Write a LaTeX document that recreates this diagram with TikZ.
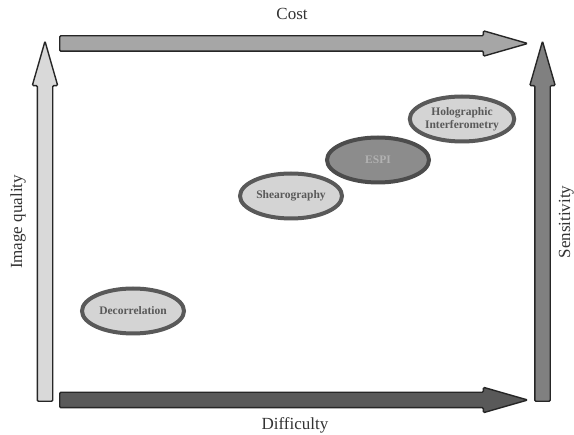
\documentclass[tikz,border=0pt]{standalone}
\usepackage{fontspec}
\setmainfont{Liberation Serif}
\usepackage{tikz}
\usetikzlibrary{shapes.arrows,shapes.geometric}

\begin{document}
\begin{tikzpicture}[x=1pt, y=-1pt,
  axis/.style={single arrow, draw=black!85, line width=1.4pt, rounded corners=1.2pt,
    inner xsep=0pt, inner ysep=7pt, single arrow head extend=5pt,
    single arrow tip angle=32, single arrow head indent=0pt, anchor=tail},
  axislabel/.style={font=\fontsize{17}{20}\selectfont, text=black!80},
  method/.style={ellipse, draw=black!65, line width=4pt, fill=black!17,
    minimum width=102pt, minimum height=45pt, inner sep=0pt, align=center,
    font=\fontsize{11.5}{13}\selectfont\bfseries, text=black!65},
]
\useasboundingbox (0,0) rectangle (574,435);

% === Axes ===
\node[axis, fill=black!35, minimum height=468pt] (cost) at (59,43.5) {};
\node[axis, fill=black!65, minimum height=468pt] (diff) at (59,400) {};
\node[axis, fill=black!15, minimum height=360pt, rotate=90] (iq) at (45,402) {};
\node[axis, fill=black!50, minimum height=360pt, rotate=90] (sens) at (542.5,402) {};

% Axis labels
\node[axislabel, anchor=base] at (292,20) {Cost};
\node[axislabel, anchor=base] at (295,430) {Difficulty};
\node[axislabel, anchor=base, rotate=90] at (22,222) {Image quality};
\node[axislabel, anchor=base, rotate=90] at (570,222) {Sensitivity};

% === Methods ===
\node[method] (holo) at (462,119) {Holographic\\Interferometry};
\node[method, fill=black!45, draw=black!70, text=black!30] (espi) at (378,160) {ESPI};
\node[method] (shear) at (291,196) {Shearography};
\node[method] (decor) at (133,311) {Decorrelation};

\end{tikzpicture}
\end{document}
